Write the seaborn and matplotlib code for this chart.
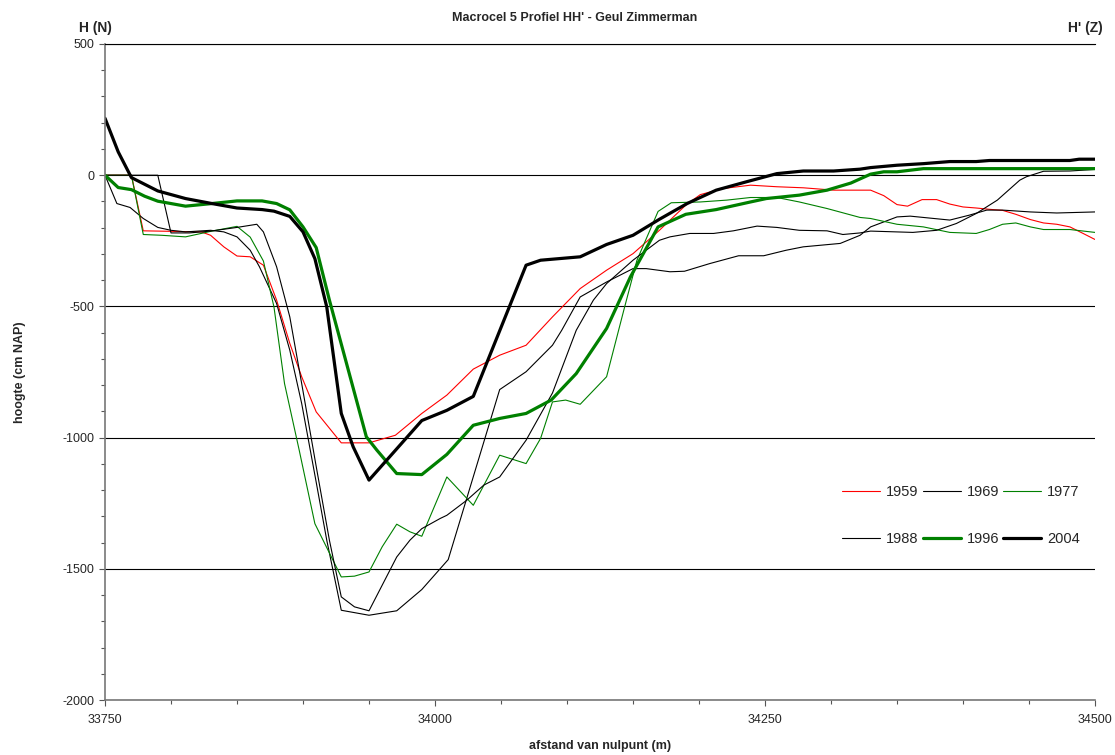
import pandas as pd
import matplotlib
matplotlib.use("Agg")
import matplotlib.pyplot as plt
from matplotlib.ticker import MultipleLocator
import seaborn as sns

sns.set_style("white")
plt.rcParams['font.family'] = ['Liberation Sans', 'DejaVu Sans']
plt.rcParams['axes.unicode_minus'] = False

# profile data per survey year (distance in m, height in cm NAP)
x_1959 = [33750, 33770, 33779, 33823, 33830, 33840, 33850, 33860, 33870, 33880, 33890, 33899,
          33910, 33929, 33950, 33970, 33990, 34009, 34029, 34049, 34069, 34089, 34110, 34130,
          34150, 34170, 34190, 34201, 34218, 34239, 34259, 34279, 34302, 34330, 34340, 34350,
          34358, 34369, 34380, 34390, 34400, 34410, 34420, 34430, 34440, 34451, 34461, 34471,
          34481, 34491, 34500]
y_1959 = [0, 0, -212, -216, -229, -273, -308, -311, -343, -476, -641, -768,
          -902, -1020, -1020, -991, -908, -838, -739, -686, -648, -540, -432, -362,
          -299, -210, -114, -74, -51, -38, -44, -48, -57, -57, -78, -112,
          -118, -93, -93, -110, -121, -125, -130, -134, -149, -169, -182, -187,
          -197, -222, -245]

x_1969 = [33750, 33759, 33769, 33779, 33790, 33800, 33811, 33830, 33840, 33850, 33860, 33867,
          33880, 33890, 33899, 33910, 33918, 33929, 33950, 33971, 33990, 34010, 34049, 34069,
          34089, 34096, 34110, 34130, 34150, 34160, 34178, 34189, 34208, 34230, 34249, 34266,
          34279, 34307, 34322, 34330, 34350, 34360, 34390, 34405, 34418, 34430, 34451, 34471,
          34500]
y_1969 = [0, -108, -123, -165, -199, -210, -216, -210, -216, -235, -286, -349,
          -489, -667, -870, -1170, -1391, -1658, -1677, -1660, -1579, -1465, -817, -749,
          -648, -591, -464, -407, -356, -356, -368, -366, -337, -307, -307, -286,
          -273, -260, -229, -197, -159, -156, -171, -152, -133, -133, -140, -144,
          -140]

x_1977 = [33750, 33770, 33779, 33793, 33811, 33831, 33850, 33860, 33870, 33878, 33886, 33897,
          33909, 33929, 33939, 33950, 33960, 33971, 33981, 33990, 34009, 34029, 34049, 34069,
          34080, 34089, 34099, 34110, 34130, 34143, 34153, 34169, 34179, 34201, 34221, 34239,
          34259, 34276, 34297, 34322, 34330, 34350, 34370, 34390, 34410, 34420, 34430, 34440,
          34451, 34461, 34481, 34500]
y_1977 = [0, 0, -226, -229, -235, -213, -195, -236, -327, -502, -794, -1045,
          -1328, -1531, -1528, -1512, -1416, -1330, -1359, -1376, -1150, -1258, -1067, -1099,
          -1003, -864, -857, -873, -768, -515, -324, -138, -105, -102, -95, -85,
          -85, -102, -127, -161, -165, -187, -197, -218, -222, -207, -187, -182,
          -197, -207, -207, -218]

x_1988 = [33750, 33790, 33800, 33814, 33830, 33850, 33865, 33870, 33880, 33890, 33899, 33910,
          33920, 33929, 33939, 33950, 33971, 33981, 33990, 34004, 34009, 34024, 34037, 34049,
          34069, 34089, 34107, 34120, 34130, 34150, 34170, 34178, 34193, 34211, 34226, 34244,
          34259, 34276, 34297, 34309, 34322, 34330, 34362, 34380, 34395, 34410, 34426, 34443,
          34448, 34461, 34481, 34500]
y_1988 = [0, 0, -220, -220, -213, -199, -187, -216, -349, -540, -794, -1110,
          -1391, -1607, -1645, -1660, -1455, -1391, -1347, -1308, -1296, -1239, -1181, -1150,
          -1010, -830, -591, -476, -413, -324, -248, -235, -222, -222, -212, -194,
          -199, -210, -212, -226, -220, -213, -218, -210, -184, -146, -95, -19,
          -6, 15, 16, 22]

x_1996 = [33750, 33760, 33770, 33780, 33790, 33811, 33831, 33850, 33869, 33880, 33890, 33900,
          33910, 33920, 33948, 33956, 33971, 33990, 34009, 34029, 34049, 34069, 34088, 34107,
          34130, 34148, 34169, 34190, 34213, 34239, 34251, 34276, 34297, 34315, 34330, 34340,
          34350, 34360, 34370, 34500]
y_1996 = [0, -47, -55, -80, -99, -118, -108, -98, -98, -108, -132, -197,
          -276, -476, -997, -1048, -1137, -1141, -1064, -953, -927, -908, -857, -756,
          -584, -388, -197, -149, -131, -102, -89, -76, -57, -30, 4, 13,
          13, 19, 25, 25]

x_2004 = [33750, 33760, 33770, 33790, 33811, 33831, 33850, 33869, 33878, 33890, 33900, 33909,
          33918, 33929, 33938, 33950, 33990, 34009, 34029, 34069, 34080, 34110, 34130, 34150,
          34170, 34191, 34213, 34236, 34259, 34279, 34302, 34322, 34330, 34350, 34370, 34390,
          34410, 34420, 34481, 34488, 34500]
y_2004 = [217, 89, -9, -60, -89, -108, -125, -131, -137, -157, -216, -318,
          -502, -908, -1035, -1162, -935, -896, -843, -343, -324, -311, -264, -229,
          -168, -108, -57, -25, 6, 16, 16, 23, 29, 38, 44, 52,
          52, 56, 56, 61, 61]

series = [
    ('1959', x_1959, y_1959, '#ff0000', 0.8),
    ('1969', x_1969, y_1969, 'black', 0.8),
    ('1977', x_1977, y_1977, '#008000', 0.8),
    ('1988', x_1988, y_1988, 'black', 0.8),
    ('1996', x_1996, y_1996, '#008000', 2.3),
    ('2004', x_2004, y_2004, 'black', 2.3),
]

fig = plt.figure(figsize=(11.15, 7.55), dpi=100)
ax = fig.add_axes([105 / 1115, 55 / 755, 990 / 1115, 656 / 755])

handles = {}
for name, xs, ys, col, lw in series:
    df = pd.DataFrame({'afstand': xs, 'hoogte': ys})
    sns.lineplot(data=df, x='afstand', y='hoogte', ax=ax, color=col, linewidth=lw,
                 sort=False, estimator=None, label=name)
    handles[name] = ax.get_lines()[-1]

ax.set_xlim(33750, 34500)
ax.set_ylim(-2000, 500)
ax.xaxis.set_major_locator(MultipleLocator(250))
ax.xaxis.set_minor_locator(MultipleLocator(50))
ax.yaxis.set_major_locator(MultipleLocator(500))
ax.yaxis.set_minor_locator(MultipleLocator(100))
ax.tick_params(axis='both', which='major', direction='out', length=4, width=0.8,
               color='#555555', labelsize=9, left=True, bottom=True)
ax.tick_params(axis='x', which='major', pad=6)
ax.tick_params(axis='both', which='minor', direction='out', length=3, width=0.8,
               color='#555555', left=True, bottom=True)
ax.grid(axis='y', which='major', color='black', linewidth=0.8)
ax.set_axisbelow(True)
ax.spines['right'].set_visible(False)
ax.spines['top'].set_color('black')
ax.spines['top'].set_linewidth(0.8)
for side in ['left', 'bottom']:
    ax.spines[side].set_color('#777777')
    ax.spines[side].set_linewidth(1.2)

ax.set_xlabel('afstand van nulpunt (m)', fontsize=9, fontweight='bold', labelpad=10)
ax.set_ylabel('hoogte (cm NAP)', fontsize=9, fontweight='bold', labelpad=26)
fig.text(575 / 1115, 1 - 18 / 755, "Macrocel 5 Profiel HH' - Geul Zimmerman",
         ha='center', va='center', fontsize=9, fontweight='bold')
fig.text(95 / 1115, 1 - 28 / 755, 'H (N)', ha='center', va='center',
         fontsize=10, fontweight='bold')
fig.text(1085 / 1115, 1 - 28 / 755, "H' (Z)", ha='center', va='center',
         fontsize=10, fontweight='bold')

order = ['1959', '1988', '1969', '1996', '1977', '2004']
ax.legend([handles[k] for k in order], order, ncol=3, frameon=False,
          loc='upper left', bbox_to_anchor=(829 / 1115, 1 - 472 / 755),
          bbox_transform=fig.transFigure, fontsize=10.5, labelspacing=2.25,
          handlelength=2.6, handletextpad=0.4, columnspacing=0.3)

fig.savefig('out.png', dpi=100)
